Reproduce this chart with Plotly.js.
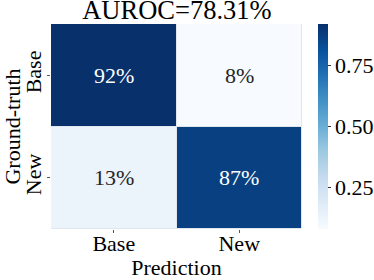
<!DOCTYPE html>
<html>
<head>
<meta charset="utf-8">
<script src="https://cdn.plot.ly/plotly-3.0.1.min.js"></script>
<style>html,body{margin:0;padding:0;background:#fff;}#chart{width:374px;height:280px;}</style>
</head>
<body>
<div id="chart"></div>
<script>
var predLabels = ['Base', 'New'];
var truthLabels = ['Base', 'New'];
var rates = [[0.92, 0.08], [0.13, 0.87]];
var titleText = 'AUROC=78.31%';
var cbTicks = [0.25, 0.5, 0.75];
var cbTickText = ['0.25', '0.50', '0.75'];

var blues = [
  [0.0, '#f7fbff'], [0.125, '#deebf7'], [0.25, '#c6dbef'], [0.375, '#9ecae1'],
  [0.5, '#6baed6'], [0.625, '#4292c6'], [0.75, '#2171b5'], [0.875, '#08519c'], [1.0, '#08306b']
];

var font = '"Liberation Serif", "Times New Roman", serif';
var annotations = [];
for (var i = 0; i < truthLabels.length; i++) {
  for (var j = 0; j < predLabels.length; j++) {
    var v = rates[i][j];
    annotations.push({
      x: predLabels[j], y: truthLabels[i], xref: 'x', yref: 'y',
      text: Math.round(v * 100) + '%', showarrow: false,
      font: {family: font, size: 22, color: v > 0.5 ? '#ffffff' : '#262626'}
    });
  }
}

var trace = {
  type: 'heatmap', x: predLabels, y: truthLabels, z: rates,
  colorscale: blues, xgap: 1, ygap: 1, hoverinfo: 'none',
  colorbar: {
    x: 1.064, xanchor: 'left', xpad: 0, y: 0.5, yanchor: 'middle', ypad: 0,
    thickness: 10, len: 1.0, lenmode: 'fraction', outlinewidth: 0,
    tickvals: cbTicks, ticktext: cbTickText, ticks: 'outside', ticklen: 3,
    tickcolor: '#333', tickfont: {family: font, size: 22, color: '#000'}
  }
};

var layout = {
  width: 374, height: 280,
  margin: {l: 51, r: 72, t: 24, b: 51, autoexpand: false},
  paper_bgcolor: '#fff', plot_bgcolor: '#dfe6ee',
  title: {text: titleText, font: {family: font, size: 26.5, color: '#000'}, x: 0.473, xanchor: 'center', xref: 'container', yref: 'container', y: 0.9636, yanchor: 'middle', pad: {t: 0, b: 0}},
  xaxis: {
    type: 'category', showgrid: false, zeroline: false, ticks: 'outside', ticklen: 3, tickcolor: '#555',
    automargin: false, ticklabelstandoff: -8, tickfont: {family: font, size: 22, color: '#000'},
    title: {text: 'Prediction', font: {family: font, size: 22, color: '#000'}, standoff: 0}
  },
  yaxis: {
    type: 'category', autorange: 'reversed', showgrid: false, zeroline: false, ticks: 'outside', ticklen: 3, tickcolor: '#555',
    automargin: false, ticklabelstandoff: -3, tickangle: -90, tickfont: {family: font, size: 22, color: '#000'},
    title: {text: 'Ground-truth', font: {family: font, size: 22, color: '#000'}, standoff: 0}
  },
  annotations: annotations,
  font: {family: font}
};

Plotly.newPlot('chart', [trace], layout, {displayModeBar: false, staticPlot: true});
</script>
</body>
</html>
